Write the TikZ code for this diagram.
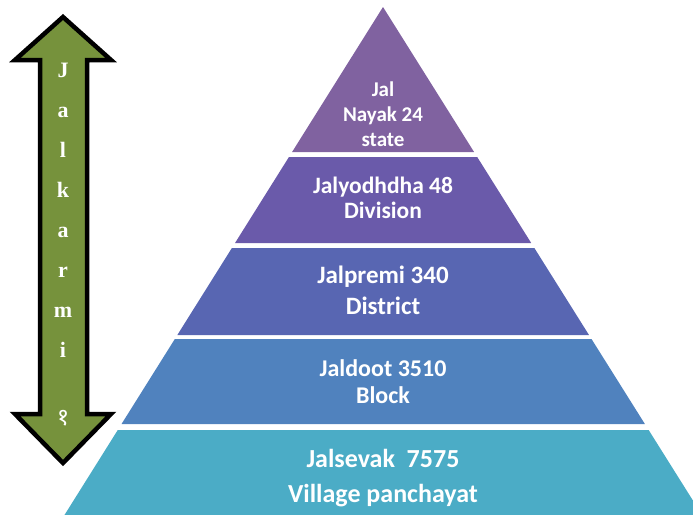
\documentclass[tikz,border=0pt]{standalone}
\usepackage{fontspec}
\setmainfont{Carlito}
\newfontfamily\letterfont{Liberation Serif}
\newfontfamily\devfont[Script=Devanagari]{Noto Sans}
\usepackage{tikz}
\definecolor{tierone}{RGB}{128,98,160}
\definecolor{tiertwo}{RGB}{106,90,170}
\definecolor{tierthree}{RGB}{88,102,178}
\definecolor{tierfour}{RGB}{80,130,190}
\definecolor{tierfive}{RGB}{75,172,198}
\definecolor{arrowgreen}{RGB}{118,146,60}
\newcommand{\tierfont}[2]{\bfseries\fontsize{#1}{#2}\selectfont}
\tikzset{
  tierlabel/.style={
    align=center,
    anchor=base,
    text=white,
    inner sep=0pt
  },
  arrowletter/.style={
    anchor=base,
    text=white,
    font=\letterfont\bfseries\fontsize{22}{22}\selectfont,
    inner sep=0pt
  }
}
\begin{document}
\begin{tikzpicture}[x=1pt,y=-1pt]
\useasboundingbox (0,0) rectangle (693,514);
\begin{scope}
\clip (0,0) rectangle (693,514);
% pyramid tiers: top edge / bottom edge / colour
\foreach \ytop/\ybot/\col in {7/152/tierone,157/243/tiertwo,248/335/tierthree,339/424/tierfour,430/530/tierfive}{
  \fill[\col] ({383-0.627*(\ytop-7)},\ytop) -- ({383+0.628*(\ytop-7)},\ytop)
    -- ({383+0.628*(\ybot-7)},\ybot) -- ({383-0.627*(\ybot-7)},\ybot) -- cycle;
}
\end{scope}

% labels sit on the baseline of their last line
\node[tierlabel, font=\tierfont{21}{25}] (state) at (383,146) {Jal\\Nayak 24\\state};
\node[tierlabel, font=\tierfont{23.5}{25}] (division) at (383,218) {Jalyodhdha 48\\Division};
\node[tierlabel, font=\tierfont{25}{31}] (district) at (383,314) {Jalpremi 340\\District};
\node[tierlabel, font=\tierfont{24}{27}] (block) at (383,403) {Jaldoot 3510\\Block};
\node[tierlabel, font=\tierfont{26}{35}] (village) at (383,502) {Jalsevak~~7575\\Village panchayat};

% double arrow
\draw[line width=4.5pt, line join=miter, fill=arrowgreen]
  (63,17) -- (15,60) -- (40,60) -- (40,414) -- (15,414) -- (63,463)
  -- (111,414) -- (87,414) -- (87,60) -- (111,60) -- cycle;
\foreach \ch/\ypos [count=\i] in {J/77,a/117,l/157,k/197,a/237,r/277,m/317,i/357}
  \node[arrowletter] (ch\i) at (63,\ypos) {\ch};
\node[arrowletter, font=\devfont\bfseries\fontsize{24}{24}\selectfont] (ch9) at (63,425) {१};
\end{tikzpicture}
\end{document}
